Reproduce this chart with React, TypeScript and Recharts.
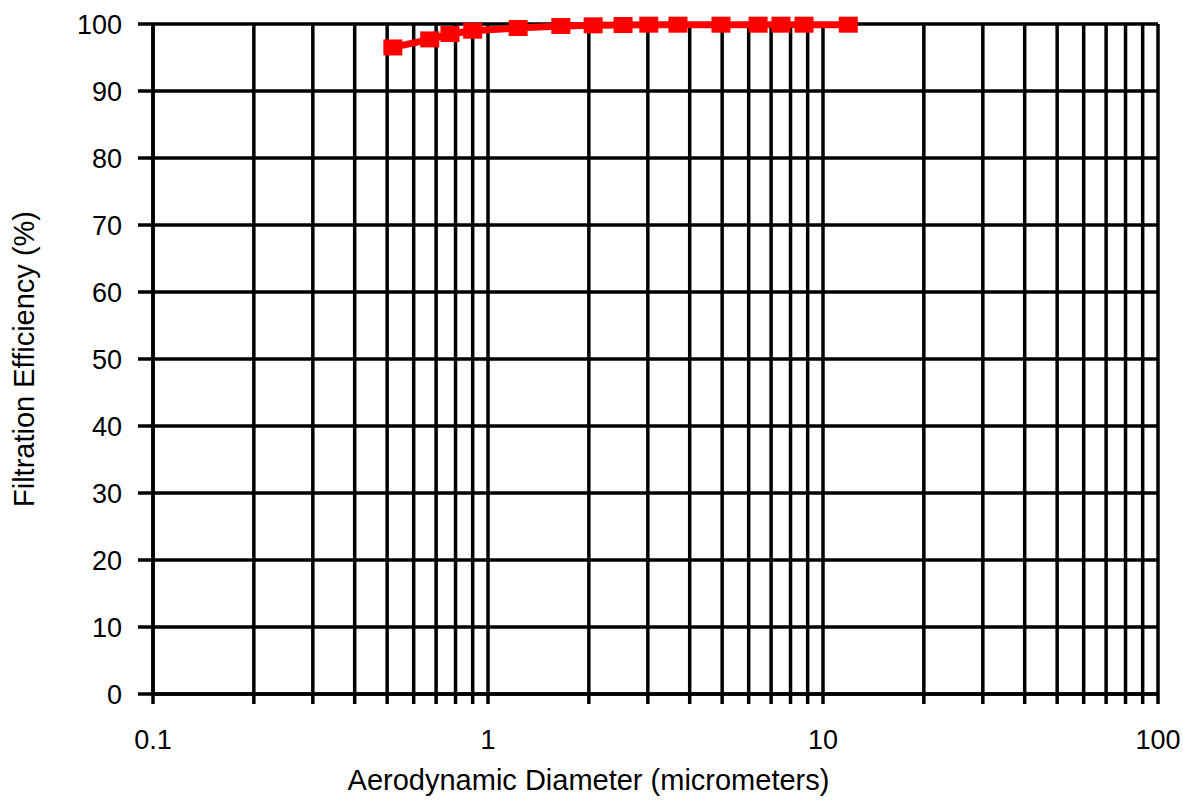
import React from 'react';
import { LineChart, Line, XAxis, YAxis, CartesianGrid, Label } from 'recharts';

// aerodynamic diameter (micrometers) and filtration efficiency (%)
const diameters = [0.52, 0.67, 0.77, 0.9, 1.23, 1.65, 2.06, 2.53, 3.02, 3.69, 4.96, 6.4, 7.49, 8.78, 11.9];
const efficiency = [96.5, 97.7, 98.5, 99.0, 99.4, 99.7, 99.8, 99.85, 99.9, 99.9, 99.9, 99.9, 99.9, 99.9, 99.9];

const xTicks = [
  0.1, 0.2, 0.3, 0.4, 0.5, 0.6, 0.7, 0.8, 0.9,
  1, 2, 3, 4, 5, 6, 7, 8, 9,
  10, 20, 30, 40, 50, 60, 70, 80, 90,
  100,
];
const xLabels = [0.1, 1, 10, 100];
const yTicks = [0, 10, 20, 30, 40, 50, 60, 70, 80, 90, 100];

const data = diameters.map((d, i) => ({ d, eff: efficiency[i] }));

const FONT = 'Arial, "Liberation Sans", sans-serif';

const SquareDot = (props: { cx?: number; cy?: number; index?: number }) => {
  const { cx, cy, index } = props;
  if (cx == null || cy == null) return null;
  return <rect key={`sq-${index}`} x={cx - 9.5} y={cy - 8} width={19} height={16} fill="#ff0000" />;
};

export default function App() {
  return (
    <div style={{ position: 'absolute', left: 0, top: 0, width: 1183, height: 804, background: '#fff' }}>
      <LineChart width={1183} height={804} data={data} margin={{ top: 24, right: 25, left: 0, bottom: 0 }}>
        <CartesianGrid stroke="#000" strokeWidth={3.5} />
        <XAxis
          dataKey="d"
          type="number"
          scale="log"
          domain={[0.1, 100]}
          ticks={xTicks}
          interval={0}
          height={110}
          tickSize={10}
          tickMargin={26}
          stroke="#000"
          strokeWidth={3.5}
          tick={{ fill: '#000', fontSize: 27, fontFamily: FONT }}
          tickFormatter={(v: number) => (xLabels.includes(v) ? String(v) : '')}
        >
          <Label
            value="Aerodynamic Diameter (micrometers)"
            position="insideBottom"
            offset={14}
            dx={-67}
            style={{ fill: '#000', fontSize: 29, fontFamily: FONT }}
          />
        </XAxis>
        <YAxis
          type="number"
          domain={[0, 100]}
          ticks={yTicks}
          interval={0}
          width={153}
          tickSize={15}
          tickMargin={16}
          stroke="#000"
          strokeWidth={3.5}
          tick={{ fill: '#000', fontSize: 27, fontFamily: FONT }}
        >
          <Label
            value="Filtration Efficiency (%)"
            angle={-90}
            position="insideLeft"
            offset={24}
            style={{ fill: '#000', fontSize: 29, fontFamily: FONT, textAnchor: 'middle' }}
          />
        </YAxis>
        <Line
          type="linear"
          dataKey="eff"
          stroke="#ff0000"
          strokeWidth={7}
          dot={<SquareDot />}
          activeDot={false}
          isAnimationActive={false}
        />
      </LineChart>
    </div>
  );
}
